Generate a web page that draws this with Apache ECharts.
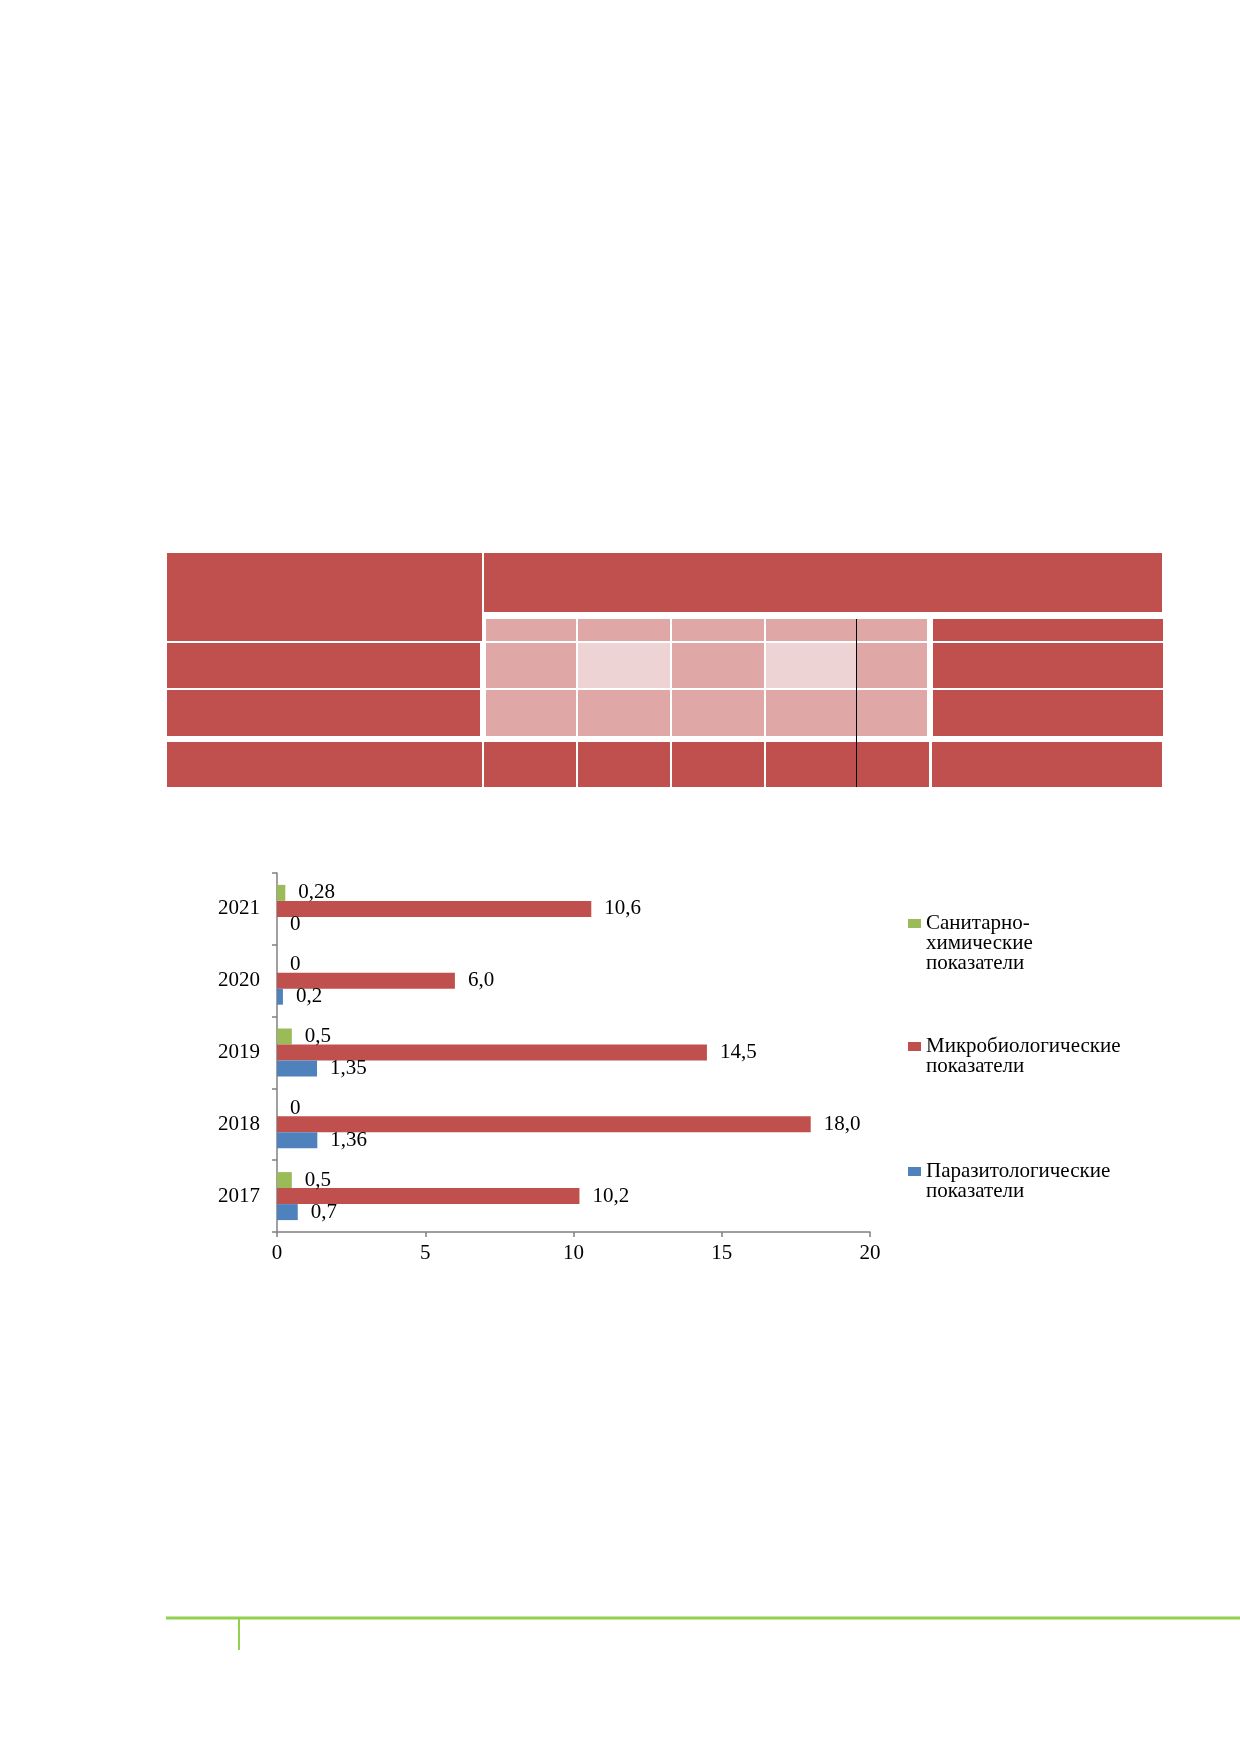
<!DOCTYPE html>
<html>
<head>
<meta charset="utf-8">
<script src="https://cdn.jsdelivr.net/npm/echarts@6/dist/echarts.min.js"></script>
<style>
  html, body { margin: 0; padding: 0; background: #fff; }
  #chart-container { width: 1240px; height: 1754px; }
</style>
</head>
<body>
<div id="chart-container"></div>
<script>
const years = ['2017', '2018', '2019', '2020', '2021'];
const seriesNames = [
    'Санитарно-\nхимические\nпоказатели',
    'Микробиологические\nпоказатели',
    'Паразитологические\nпоказатели'
];
const sanChem = [0.5, 0, 0.5, 0, 0.28];
const microBio = [10.2, 18.0, 14.5, 6.0, 10.6];
const parasit = [0.7, 1.36, 1.35, 0.2, 0];
const xTicks = [0, 5, 10, 15, 20];

const RED = '#C0504D';
const GREEN = '#9BBB59';
const BLUE = '#4F81BD';
const PINK = '#DFA8A7';
const LIGHT = '#EDD3D3';
const FONT = '"Liberation Serif", "Times New Roman", serif';

// decorative table above the chart (no text in it)
const tableCells = [
    [167, 553, 315, 88, RED], [484, 553, 678, 59, RED],
    [486, 619, 90, 22, PINK], [578, 619, 92, 22, PINK], [672, 619, 92, 22, PINK], [766, 619, 161, 22, PINK], [933, 619, 230, 22, RED],
    [167, 643, 313, 45, RED], [486, 643, 90, 45, PINK], [578, 643, 92, 45, LIGHT], [672, 643, 92, 45, PINK], [766, 643, 90, 45, LIGHT], [857, 643, 70, 45, PINK], [933, 643, 230, 45, RED],
    [167, 690, 313, 46, RED], [486, 690, 90, 46, PINK], [578, 690, 92, 46, PINK], [672, 690, 92, 46, PINK], [766, 690, 161, 46, PINK], [933, 690, 230, 46, RED],
    [167, 742, 315, 45, RED], [484, 742, 92, 45, RED], [578, 742, 92, 45, RED], [672, 742, 92, 45, RED], [766, 742, 163, 45, RED], [932, 742, 230, 45, RED]
];

function fmt(v, digits) {
    const s = digits != null ? v.toFixed(digits) : String(v);
    return s.replace('.', ',');
}

const chartContainer = document.getElementById('chart-container');
const myChart = echarts.init(chartContainer);

const graphics = tableCells.map(c => ({
    type: 'rect',
    shape: { x: c[0], y: c[1], width: c[2], height: c[3] },
    style: { fill: c[4] },
    silent: true
}));
graphics.push({
    type: 'line', shape: { x1: 856.5, y1: 619, x2: 856.5, y2: 787 },
    style: { stroke: '#000', lineWidth: 1 }, silent: true
});
// page footer
graphics.push({
    type: 'line', shape: { x1: 166, y1: 1618, x2: 1240, y2: 1618 },
    style: { stroke: '#92D050', lineWidth: 3 }, silent: true
});
graphics.push({
    type: 'line', shape: { x1: 239, y1: 1618, x2: 239, y2: 1650 },
    style: { stroke: '#92D050', lineWidth: 2 }, silent: true
});

const labelStyle = {
    show: true,
    position: 'right',
    distance: 13,
    fontFamily: FONT,
    fontSize: 21,
    color: '#000'
};

// icon sits next to the first line of the name: pad with empty lines above
function makeLegend(name, top) {
    const lines = name.split('\n').length;
    return {
        data: [name],
        left: 908,
        top: top,
        padding: 0,
        itemWidth: 13,
        itemHeight: 9,
        selectedMode: false,
        icon: 'rect',
        formatter: n => '\n'.repeat(lines - 1) + n,
        textStyle: {
            fontFamily: FONT,
            fontSize: 21,
            lineHeight: 20,
            color: '#000'
        }
    };
}

const options = {
    backgroundColor: '#fff',
    animation: false,
    graphic: graphics,
    legend: [
        makeLegend(seriesNames[0], 873),
        makeLegend(seriesNames[1], 1016),
        makeLegend(seriesNames[2], 1141)
    ],
    grid: {
        left: 277,
        right: 370,
        top: 873,
        bottom: 522,
        containLabel: false
    },
    xAxis: {
        type: 'value',
        min: 0,
        max: 20,
        interval: 5,
        splitLine: { show: false },
        axisLine: { show: true, lineStyle: { color: '#808080', width: 1.5 } },
        axisTick: { show: true, length: 5, lineStyle: { color: '#808080', width: 1.5 } },
        axisLabel: {
            margin: 11,
            fontFamily: FONT,
            fontSize: 21,
            color: '#000',
            formatter: v => xTicks.includes(v) ? String(v) : ''
        }
    },
    yAxis: {
        type: 'category',
        data: years,
        axisLine: { show: true, lineStyle: { color: '#808080', width: 1.5 } },
        axisTick: { show: true, length: 5, lineStyle: { color: '#808080', width: 1.5 } },
        axisLabel: {
            margin: 17,
            fontFamily: FONT,
            fontSize: 21,
            color: '#000'
        }
    },
    series: [{
        name: seriesNames[0],
        type: 'bar',
        data: sanChem,
        barWidth: 16,
        barGap: '0%',
        itemStyle: { color: GREEN },
        label: Object.assign({}, labelStyle, { formatter: p => fmt(p.value) })
    }, {
        name: seriesNames[1],
        type: 'bar',
        data: microBio,
        barWidth: 16,
        barGap: '0%',
        itemStyle: { color: RED },
        label: Object.assign({}, labelStyle, { formatter: p => fmt(p.value, 1) })
    }, {
        name: seriesNames[2],
        type: 'bar',
        data: parasit,
        barWidth: 16,
        barGap: '0%',
        itemStyle: { color: BLUE },
        label: Object.assign({}, labelStyle, { formatter: p => fmt(p.value) })
    }]
};

myChart.setOption(options);

window.addEventListener('resize', function () {
    myChart.resize();
});
</script>
</body>
</html>
